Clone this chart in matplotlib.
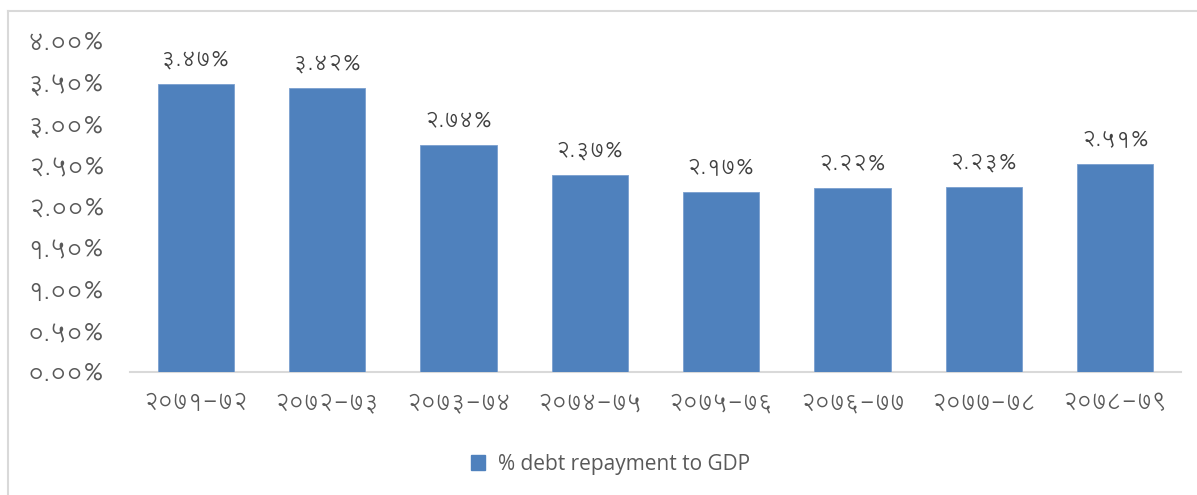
import matplotlib
matplotlib.use("Agg")
import matplotlib.pyplot as plt
from matplotlib.lines import Line2D
from matplotlib.patches import Patch

# fiscal years (Nepali calendar) and debt repayment as % of GDP
years = ["२०७१-७२", "२०७२-७३", "२०७३-७४", "२०७४-७५",
         "२०७५-७६", "२०७६-७७", "२०७७-७८", "२०७८-७९"]
values = [3.47, 3.42, 2.74, 2.37, 2.17, 2.22, 2.23, 2.51]
yticks = [0.0, 0.5, 1.0, 1.5, 2.0, 2.5, 3.0, 3.5, 4.0]
series_name = "% debt repayment to GDP"

BAR_COLOR = "#4f81bd"
TEXT_COLOR = "#595959"
DEV_FONT = ["Lohit Devanagari", "Noto Sans Devanagari", "DejaVu Sans"]

DIGITS = str.maketrans("0123456789", "०१२३४५६७८९")


def to_dev(s):
    return s.translate(DIGITS)


fig = plt.figure(figsize=(11.97, 4.95), dpi=100)
ax = fig.add_axes([0.1086, 0.2485, 0.878, 0.6705])

x = range(len(years))
bars = ax.bar(x, values, width=0.58, color=BAR_COLOR, edgecolor="#7a9fcf", linewidth=0.6, zorder=3)

for xi, v in zip(x, values):
    ax.annotate(to_dev("{:.2f}%".format(v)), (xi, v), xytext=(0, 10), textcoords="offset points",
                ha="center", va="bottom", fontsize=16, color="#404040", family=DEV_FONT)

ax.set_xlim(-0.5, len(years) - 0.5)
ax.set_ylim(0, 4)
ax.set_yticks(yticks)
ax.set_yticklabels([to_dev("{:.2f}%".format(t)) for t in yticks], family=DEV_FONT,
                   fontsize=18, color=TEXT_COLOR)
ax.set_xticks(list(x))
ax.set_xticklabels(years, family=DEV_FONT, fontsize=16.5, color=TEXT_COLOR)
ax.tick_params(axis="y", length=0, pad=18)
ax.tick_params(axis="x", length=0, pad=14)

for side in ["top", "right", "left"]:
    ax.spines[side].set_visible(False)
ax.spines["bottom"].set_color("#d9d9d9")
ax.spines["bottom"].set_linewidth(1.5)

handle = Patch(facecolor=BAR_COLOR, edgecolor=BAR_COLOR)
fig.legend([handle], [series_name], loc="center", bbox_to_anchor=(0.51, 0.062),
           frameon=False, handlelength=0.7, handleheight=0.7,
           handletextpad=0.6, labelcolor=TEXT_COLOR, prop={"family": "Open Sans", "size": 15})

# chart border (top and left edges visible in the source)
fig.add_artist(Line2D([0.007, 1.0], [0.977, 0.977], color="#d9d9d9", linewidth=1.5))
fig.add_artist(Line2D([0.007, 0.007], [0.0, 0.977], color="#d9d9d9", linewidth=1.5))

fig.savefig("out.png")
